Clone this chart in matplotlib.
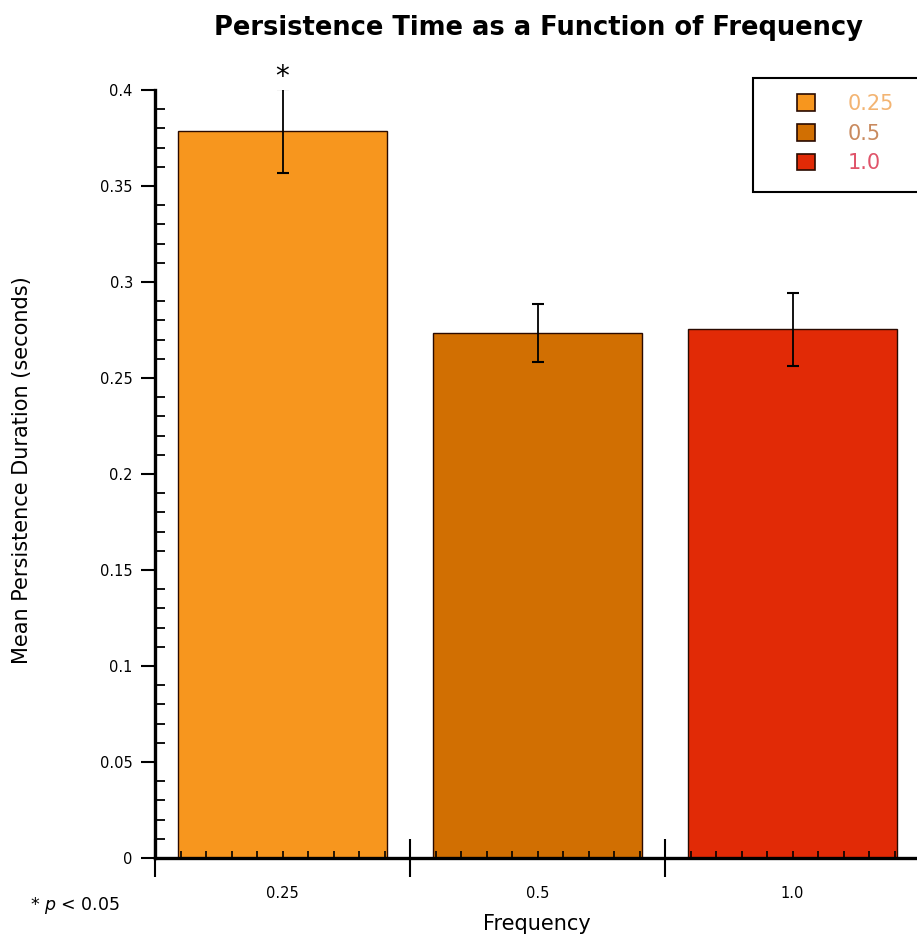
import matplotlib
matplotlib.use("Agg")
import matplotlib.pyplot as plt
from matplotlib.ticker import MultipleLocator
from matplotlib.patches import Patch, Rectangle

# mean persistence per frequency condition
frequencies = ["0.25", "0.5", "1.0"]
means = [0.3786, 0.2734, 0.2755]
errors = [0.022, 0.0152, 0.0190]
significant = [True, False, False]

bar_colors = ["#F7961E", "#D16F02", "#E12A06"]
legend_text_colors = ["#F3B472", "#C98A5E", "#E0546A"]

plt.rcParams["font.family"] = "DejaVu Sans"

fig = plt.figure(figsize=(9.17, 9.42), dpi=100)
ax = fig.add_axes([155 / 917, 1 - 858 / 942, 765 / 917, 768 / 942])

x = [i + 0.5 for i in range(len(frequencies))]
ax.bar(x, means, width=0.82, color=bar_colors, edgecolor="#2a0a00", linewidth=1.0, zorder=1)
ax.errorbar(x, means, yerr=errors, fmt="none", ecolor="black", elinewidth=1.3,
            capsize=4.5, capthick=1.5, zorder=3)
ax.set_axisbelow(False)

for xi, m, e, sig in zip(x, means, errors, significant):
    if sig:
        ax.text(xi, m + e + 0.006, "*", ha="center", va="center", fontsize=20, clip_on=False)

ax.set_xlim(0, 3)
ax.set_ylim(0, 0.4)

# y axis: labelled ticks outward, minor ticks inward
ax.set_yticks([0, 0.05, 0.1, 0.15, 0.2, 0.25, 0.3, 0.35, 0.4],
              ["0", "0.05", "0.1", "0.15", "0.2", "0.25", "0.3", "0.35", "0.4"])
ax.yaxis.set_minor_locator(MultipleLocator(0.01))
ax.tick_params(axis="y", which="major", direction="out", length=10, width=1.5,
               labelsize=10.5, pad=6)
ax.tick_params(axis="y", which="minor", direction="in", length=7, width=1.3)

# x axis: separators at category boundaries, small inward ticks every 0.1
ax.set_xticks([0, 1, 2, 3], [])
ax.xaxis.set_minor_locator(MultipleLocator(0.1))
ax.tick_params(axis="x", which="major", direction="inout", length=28, width=1.5)
ax.tick_params(axis="x", which="minor", direction="in", length=5, width=1.2)

# category labels under the bar centres
lab = ax.secondary_xaxis("bottom")
lab.set_xticks(x, frequencies)
lab.tick_params(axis="x", length=0, labelsize=10.5, pad=20)
lab.spines["bottom"].set_visible(False)

for side in ["top", "right"]:
    ax.spines[side].set_visible(False)
ax.spines["left"].set_linewidth(2.4)
ax.spines["bottom"].set_linewidth(2.4)

ax.set_ylabel("Mean Persistence Duration (seconds)", fontsize=15)
ax.yaxis.set_label_coords((32 - 155) / 765, 0.505)
ax.set_xlabel("Frequency", fontsize=15)
ax.xaxis.set_label_coords((537 - 155) / 765, (858 - 914) / 768)

fig.text(538 / 917, 1 - 28 / 942, "Persistence Time as a Function of Frequency",
         ha="center", va="center", fontsize=18.5, fontweight="bold")
fig.text(30 / 917, 1 - 905 / 942, r"* $p$ < 0.05", ha="left", va="center", fontsize=12.5)

# legend box, running off the right edge
ax.add_patch(Rectangle((753 / 917, 1 - 192 / 942), 170 / 917, 114 / 942,
                       transform=fig.transFigure, facecolor="white",
                       edgecolor="black", linewidth=1.5, zorder=4, clip_on=False))
handles = [Patch(facecolor=c, edgecolor="#2a0a00", linewidth=1.2) for c in bar_colors]
leg = ax.legend(handles, frequencies, loc="upper left", bbox_to_anchor=(797 / 917, 1 - 94 / 942),
                bbox_transform=fig.transFigure, fontsize=15, frameon=False,
                handlelength=0.85, handleheight=0.85, handletextpad=1.6, labelspacing=0.46,
                borderpad=0, borderaxespad=0)
leg.set_zorder(5)
for t, c in zip(leg.get_texts(), legend_text_colors):
    t.set_color(c)

fig.savefig("out.png", dpi=100)
